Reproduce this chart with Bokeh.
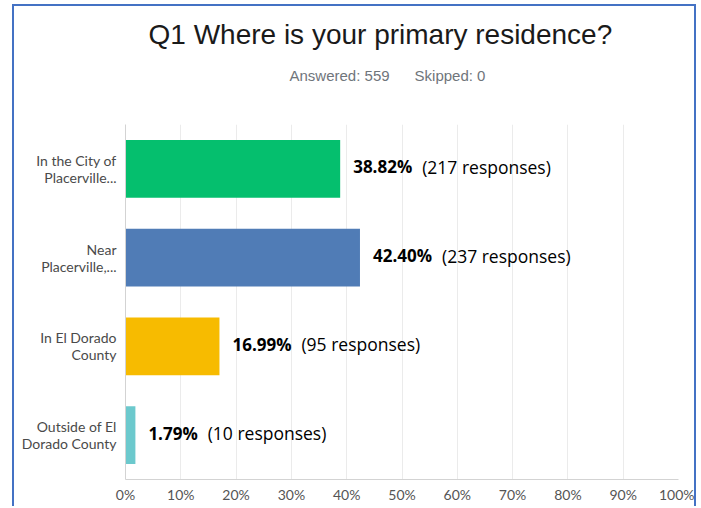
from bokeh.plotting import figure
from bokeh.models import Range1d, FactorRange, Title, FixedTicker, ColumnDataSource
from bokeh.core.properties import value
from bokeh.embed import file_html
from bokeh.resources import INLINE

# ---- data ----
categories = ["In the City of\nPlacerville...", "Near\nPlacerville,...",
              "In El Dorado\nCounty", "Outside of El\nDorado County"]
percents = [38.82, 42.40, 16.99, 1.79]
responses = [217, 237, 95, 10]
colors = ["#05bf6e", "#507cb6", "#f7bb00", "#6cc9cd"]
x_ticks = [0, 10, 20, 30, 40, 50, 60, 70, 80, 90, 100]
x_tick_labels = [f"{t}%" for t in x_ticks]
title_text = "Q1 Where is your primary residence?"
subtitle_text = "Answered: 559 \u00a0\u00a0\u00a0\u00a0\u00a0Skipped: 0"

# ---- label helpers ----
bold_labels = [f"{v:.2f}%" for v in percents]
rest_labels = [f"({r} responses)" for r in responses]
char_w = {"%": 15.3, ".": 4.9}
def bold_width(s):
    return sum(char_w.get(c, 9.7) for c in s)
off1 = 13
off2 = [off1 + bold_width(s) + 10 for s in bold_labels]

src = ColumnDataSource(dict(cat=categories, pct=percents, color=colors,
                            bold=bold_labels, rest=rest_labels, off2=off2))

p = figure(width=684, height=502, x_range=Range1d(0, 100),
           y_range=FactorRange(factors=categories[::-1]),
           output_backend="svg", toolbar_location=None, title=None,
           min_border_left=111, min_border_right=20, min_border_top=118, min_border_bottom=29)
p.outline_line_color = None
p.background_fill_color = "white"
p.border_fill_color = "white"
p.styles = {"margin-left": "12px", "margin-top": "4px",
            "border-left": "2px solid #4472c4", "border-top": "2px solid #4472c4",
            "border-right": "2px solid #4472c4"}

# blank spacer between subtitle and plot area
spacer = Title(text="\u00a0", align="left", standoff=14, text_font_size="10px",
               text_color="#ffffff")
p.add_layout(spacer, "above")
sub = Title(text=subtitle_text, align="left", offset=164, standoff=27,
            text_font="Liberation Sans", text_font_size="15px", text_font_style="normal",
            text_color="#6f757b")
p.add_layout(sub, "above")
ttl = Title(text=title_text, align="left", offset=23, standoff=4,
            text_font="Liberation Sans", text_font_size="28px", text_font_style="normal",
            text_color="#1a1a1a")
p.add_layout(ttl, "above")

p.hbar(y="cat", left=0, right="pct", height=0.65, fill_color="color", line_color=None, source=src)

p.text(x="pct", y="cat", text="bold", x_offset=off1, y_offset=-2, text_baseline="middle",
       text_align="left", text_font=value("Open Sans"), text_font_style="bold",
       text_font_size="17px", text_color="#000000", source=src)
p.text(x="pct", y="cat", text="rest", x_offset="off2", y_offset=-2, text_baseline="middle",
       text_align="left", text_font=value("Open Sans"), text_font_style="normal",
       text_font_size="17.5px", text_color="#000000", source=src)

# axes
p.xaxis.ticker = FixedTicker(ticks=x_ticks)
p.xaxis.major_label_overrides = {t: l for t, l in zip(x_ticks, x_tick_labels)}
p.xaxis.major_tick_line_color = None
p.xaxis.major_tick_out = 0
p.xaxis.major_tick_in = 0
p.xaxis.minor_tick_line_color = None
p.xaxis.axis_line_color = "#d3d3d3"
p.xaxis.major_label_standoff = 6
p.xaxis.major_label_text_font = "Lato"
p.xaxis.major_label_text_font_size = "14px"
p.xaxis.major_label_text_color = "#555555"

p.yaxis.major_tick_line_color = None
p.yaxis.major_tick_out = 0
p.yaxis.major_tick_in = 0
p.yaxis.minor_tick_line_color = None
p.yaxis.axis_line_color = "#d3d3d3"
p.yaxis.major_label_standoff = 9
p.yaxis.major_label_text_font = "Lato"
p.yaxis.major_label_text_font_size = "14px"
p.yaxis.major_label_text_color = "#4a4a4a"
p.yaxis.major_label_text_line_height = 1.0

p.xgrid.grid_line_color = "#ebebeb"
p.ygrid.grid_line_color = None

open("out.html", "w").write(file_html(p, INLINE))
